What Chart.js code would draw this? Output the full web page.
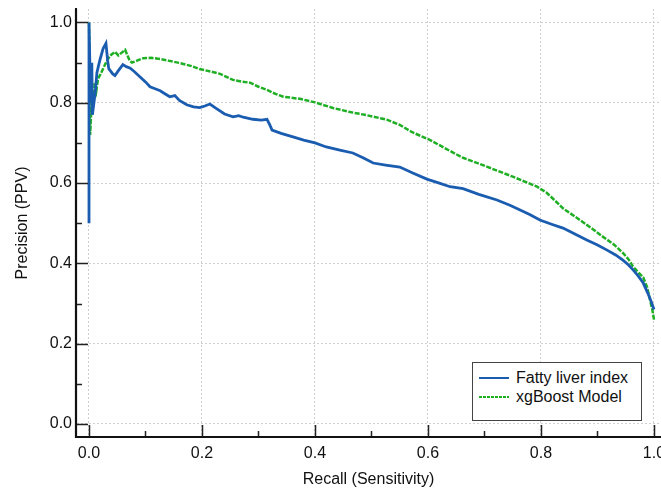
<!DOCTYPE html>
<html>
<head>
<meta charset="utf-8">
<script src="https://cdn.jsdelivr.net/npm/chart.js@4.4.1/dist/chart.umd.min.js"></script>
<style>
  body { margin: 0; background: #fff; }
  #wrap { position: relative; width: 661px; height: 490px; overflow: hidden; }
  #legend {
    position: absolute; left: 472px; top: 362px; width: 168px; height: 52px;
    border: 1.5px solid #444; background: #fff; padding-top: 5px; box-sizing: content-box;
    font-family: "Liberation Sans", Arial, sans-serif; font-size: 16px; color: #111;
  }
  .row { display: flex; align-items: center; height: 19px; }
  .sample { width: 30px; height: 2px; margin-left: 6px; margin-right: 7px; }
</style>
</head>
<body>
<div id="wrap">
  <canvas id="myChart" width="661" height="490"></canvas>
  <div id="legend"></div>
</div>
<script>
//Series (recall on x, precision on y)
const fliRecall = [0, 0, 0.003, 0.005, 0.006, 0.011, 0.014, 0.019, 0.025, 0.030, 0.033, 0.035, 0.042, 0.046, 0.052,
  0.060, 0.066, 0.073, 0.080, 0.090, 0.100, 0.108, 0.117, 0.126, 0.135, 0.143, 0.152, 0.160, 0.173, 0.185,
  0.196, 0.205, 0.214, 0.225, 0.240, 0.255, 0.265, 0.273, 0.290, 0.305, 0.315, 0.320, 0.324, 0.340, 0.361,
  0.380, 0.400, 0.420, 0.444, 0.467, 0.485, 0.503, 0.525, 0.550, 0.575, 0.598, 0.620, 0.639, 0.662, 0.690,
  0.722, 0.745, 0.763, 0.780, 0.798, 0.820, 0.839, 0.860, 0.881, 0.900, 0.917, 0.932, 0.945, 0.955, 0.963,
  0.972, 0.981, 0.989, 0.995, 1.000];
const fliPrecision = [0.50, 1.00, 0.80, 0.90, 0.77, 0.825, 0.875, 0.905, 0.935, 0.948, 0.905, 0.885, 0.872, 0.868, 0.880,
  0.895, 0.890, 0.886, 0.878, 0.865, 0.852, 0.840, 0.835, 0.830, 0.822, 0.815, 0.818, 0.806, 0.795, 0.790,
  0.788, 0.792, 0.797, 0.786, 0.772, 0.765, 0.768, 0.764, 0.759, 0.757, 0.759, 0.745, 0.732, 0.724, 0.715,
  0.707, 0.700, 0.690, 0.682, 0.675, 0.663, 0.650, 0.645, 0.640, 0.624, 0.610, 0.600, 0.591, 0.586, 0.572,
  0.558, 0.545, 0.533, 0.522, 0.508, 0.497, 0.488, 0.473, 0.458, 0.446, 0.433, 0.421, 0.408, 0.396, 0.384,
  0.369, 0.351, 0.326, 0.305, 0.285];

const xgbRecall = [0, 0.001, 0.002, 0.004, 0.006, 0.008, 0.010, 0.013, 0.016, 0.020, 0.025, 0.030, 0.037, 0.046, 0.052,
  0.058, 0.064, 0.068, 0.072, 0.076, 0.085, 0.096, 0.110, 0.126, 0.140, 0.161, 0.180, 0.196, 0.215, 0.232,
  0.255, 0.270, 0.285, 0.300, 0.315, 0.330, 0.344, 0.373, 0.400, 0.432, 0.462, 0.492, 0.527, 0.550, 0.573,
  0.604, 0.639, 0.662, 0.704, 0.750, 0.793, 0.810, 0.825, 0.839, 0.869, 0.890, 0.910, 0.930, 0.945, 0.955,
  0.963, 0.972, 0.981, 0.988, 0.993, 0.997, 1.000];
const xgbPrecision = [1.00, 0.90, 0.72, 0.78, 0.82, 0.80, 0.85, 0.83, 0.86, 0.87, 0.885, 0.90, 0.917, 0.927, 0.918,
  0.925, 0.932, 0.918, 0.905, 0.900, 0.905, 0.911, 0.912, 0.909, 0.905, 0.899, 0.892, 0.884, 0.878, 0.872,
  0.857, 0.853, 0.850, 0.840, 0.832, 0.822, 0.815, 0.810, 0.801, 0.787, 0.777, 0.769, 0.758, 0.745, 0.726,
  0.707, 0.680, 0.663, 0.641, 0.616, 0.591, 0.576, 0.556, 0.537, 0.508, 0.487, 0.466, 0.446, 0.426, 0.410,
  0.392, 0.378, 0.365, 0.340, 0.309, 0.285, 0.260];

//Tick values (every 0.1, labels only on the 0.2 steps)
const tickValues = [0, 0.1, 0.2, 0.3, 0.4, 0.5, 0.6, 0.7, 0.8, 0.9, 1.0];

const seriesNames = ["Fatty liver index", "xgBoost Model"];
const seriesColors = ["#1a5cb0", "#1faf24"];

const fontFamily = '"Liberation Sans", Arial, sans-serif';

const toPoints = (xs, ys) => xs.map((x, i) => ({x: x, y: ys[i]}));
const isMajor = (v) => Math.round(v * 10) % 2 === 0;

//Solid axis lines plus inward pointing tick marks
const axisFrame = {
  id: "axisFrame",
  afterDraw(chart) {
    const ctx = chart.ctx;
    const area = chart.chartArea;
    const xs = chart.scales.x;
    const ys = chart.scales.y;
    ctx.save();
    ctx.setLineDash([]);
    ctx.strokeStyle = "#222";
    ctx.lineWidth = 1.5;
    ctx.beginPath();
    for (let v of tickValues) {
      const len = isMajor(v) ? 12 : 6;
      const px = Math.round(xs.getPixelForValue(v)) + 0.5;
      ctx.moveTo(px, area.bottom);
      ctx.lineTo(px, area.bottom - len);
      const py = Math.round(ys.getPixelForValue(v)) + 0.5;
      ctx.moveTo(area.left, py);
      ctx.lineTo(area.left + len, py);
    }
    ctx.stroke();

    ctx.strokeStyle = "#111";
    ctx.lineWidth = 2.2;
    ctx.beginPath();
    ctx.moveTo(area.left, area.top);
    ctx.lineTo(area.left, area.bottom);
    ctx.lineTo(area.right, area.bottom);
    ctx.stroke();
    ctx.restore();
  }
};

const axisOptions = (title, min, max, isX) => ({
  type: "linear",
  min: min,
  max: max,
  afterBuildTicks: (scale) => {
    scale.ticks = tickValues.map(v => ({value: v}));
  },
  afterFit: (scale) => {
    if (isX) {
      scale.height = 53;
      scale.paddingLeft = 0;
      scale.paddingRight = 0;
    } else {
      scale.width = 76;
      scale.paddingTop = 0;
      scale.paddingBottom = 0;
    }
  },
  grid: {
    drawTicks: false,
    color: (c) => (c.tick && isMajor(c.tick.value)) ? "#cfcfcf" : "rgba(0,0,0,0)",
    lineWidth: 1
  },
  border: {color: "#111", width: 2, dash: [2, 2]},
  ticks: {
    autoSkip: false,
    maxRotation: 0,
    padding: isX ? 7 : 4,
    color: "#111",
    font: {family: fontFamily, size: 16},
    callback: (v) => isMajor(v) ? v.toFixed(1) : ""
  },
  title: {
    display: true,
    text: title,
    color: "#111",
    font: {family: fontFamily, size: 16},
    padding: isX ? {top: 0, bottom: 1} : {top: 13, bottom: 0}
  }
});

const config = {
  type: "line",
  data: {
    datasets: [{
      label: seriesNames[0],
      data: toPoints(fliRecall, fliPrecision),
      borderColor: seriesColors[0],
      borderWidth: 2.8,
      pointRadius: 0,
      tension: 0
    }, {
      label: seriesNames[1],
      data: toPoints(xgbRecall, xgbPrecision),
      borderColor: seriesColors[1],
      borderWidth: 2.5,
      borderDash: [5, 1.5],
      pointRadius: 0,
      tension: 0
    }]
  },
  options: {
    responsive: false,
    animation: false,
    layout: {padding: {top: 9, right: 0, bottom: 0, left: 0}},
    plugins: {legend: {display: false}, tooltip: {enabled: false}},
    scales: {
      x: axisOptions("Recall (Sensitivity)", -0.023, 1.0124, true),
      y: axisOptions("Precision (PPV)", -0.0324, 1.0336, false)
    }
  },
  plugins: [axisFrame]
};

const myChart = new Chart(document.getElementById("myChart"), config);

//Legend box drawn as html from the dataset settings
const legendEl = document.getElementById("legend");
myChart.data.datasets.forEach((ds) => {
  const row = document.createElement("div");
  row.className = "row";
  const sample = document.createElement("span");
  sample.className = "sample";
  if (ds.borderDash) {
    sample.style.background = `repeating-linear-gradient(90deg, ${ds.borderColor} 0 3px, transparent 3px 4px)`;
  } else {
    sample.style.background = ds.borderColor;
  }
  const text = document.createElement("span");
  text.textContent = ds.label;
  row.appendChild(sample);
  row.appendChild(text);
  legendEl.appendChild(row);
});
</script>
</body>
</html>
